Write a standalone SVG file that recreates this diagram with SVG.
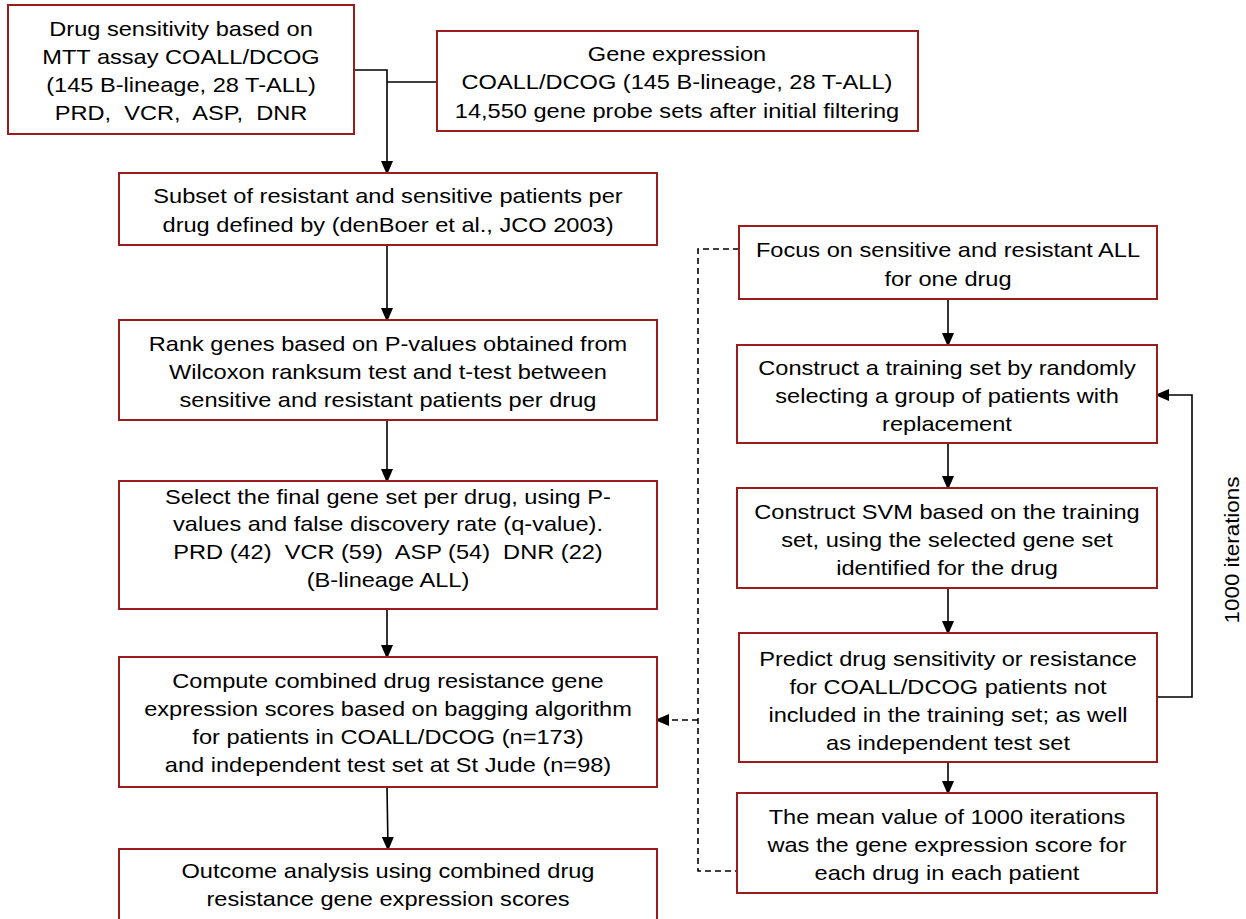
<svg xmlns="http://www.w3.org/2000/svg" width="1246" height="919" viewBox="0 0 1246 919">
<defs>
<style>
.box{fill:#fff;stroke:#9b1c1c;stroke-width:2}
text{font-family:"Liberation Sans",Arial,sans-serif;font-size:20px;fill:#000;text-anchor:middle}
.ln{fill:none;stroke:#000;stroke-width:1.6}
.dash{fill:none;stroke:#000;stroke-width:1.6;stroke-dasharray:6,4}
</style>
<marker id="ah" markerWidth="14" markerHeight="12" refX="12" refY="6" orient="auto" markerUnits="userSpaceOnUse">
<path d="M0,0 L14,6 L0,12 z" fill="#000"/>
</marker>
</defs>
<rect width="1246" height="919" fill="#fff"/>
<g id="connectors">
<polyline class="ln" points="354,70 387,70 387,173" marker-end="url(#ah)"/>
<line class="ln" x1="437" y1="82" x2="387" y2="82"/>
<line class="ln" x1="387" y1="245" x2="387" y2="320" marker-end="url(#ah)"/>
<line class="ln" x1="387" y1="420" x2="387" y2="481" marker-end="url(#ah)"/>
<line class="ln" x1="387" y1="609" x2="387" y2="657" marker-end="url(#ah)"/>
<line class="ln" x1="387" y1="787" x2="388" y2="849" marker-end="url(#ah)"/>
<line class="ln" x1="948" y1="299" x2="948" y2="345" marker-end="url(#ah)"/>
<line class="ln" x1="948" y1="443" x2="948" y2="488" marker-end="url(#ah)"/>
<line class="ln" x1="948" y1="588" x2="948" y2="633" marker-end="url(#ah)"/>
<line class="ln" x1="948" y1="762" x2="948" y2="793" marker-end="url(#ah)"/>
<polyline class="ln" points="1157,697 1192,697 1192,395 1157,395" marker-end="url(#ah)"/>
<polyline class="dash" points="739,249 698,249 698,871 737,871"/>
<line class="dash" x1="698" y1="720" x2="657" y2="720" marker-end="url(#ah)"/>
</g>
<g id="n1"><rect class="box" x="8" y="5" width="346" height="129"/>
<g transform="translate(181,0) scale(1.18,1)"><text x="0" y="36">Drug sensitivity based on</text><text x="0" y="64">MTT assay COALL/DCOG</text><text x="0" y="92">(145 B-lineage, 28 T-ALL)</text><text x="0" y="120" xml:space="preserve">PRD,  VCR,  ASP,  DNR</text></g></g>
<g id="n2"><rect class="box" x="437" y="31" width="481" height="100"/>
<g transform="translate(677,0) scale(1.18,1)"><text x="0" y="61">Gene expression</text><text x="0" y="89">COALL/DCOG (145 B-lineage, 28 T-ALL)</text><text x="0" y="118">14,550 gene probe sets after initial filtering</text></g></g>
<g id="n3"><rect class="box" x="119" y="173" width="538" height="72"/>
<g transform="translate(388,0) scale(1.18,1)"><text x="0" y="203">Subset of resistant and sensitive patients per</text><text x="0" y="232">drug defined by (denBoer et al., JCO 2003)</text></g></g>
<g id="n4"><rect class="box" x="119" y="320" width="538" height="100"/>
<g transform="translate(388,0) scale(1.18,1)"><text x="0" y="351">Rank genes based on P-values obtained from</text><text x="0" y="379">Wilcoxon ranksum test and t-test between</text><text x="0" y="407">sensitive and resistant patients per drug</text></g></g>
<g id="n5"><rect class="box" x="119" y="481" width="538" height="128"/>
<g transform="translate(388,0) scale(1.18,1)"><text x="0" y="504">Select the final gene set per drug, using P-</text><text x="0" y="531">values and false discovery rate (q-value).</text><text x="0" y="559" xml:space="preserve">PRD (42)  VCR (59)  ASP (54)  DNR (22)</text><text x="0" y="587">(B-lineage ALL)</text></g></g>
<g id="n6"><rect class="box" x="119" y="657" width="538" height="130"/>
<g transform="translate(388,0) scale(1.18,1)"><text x="0" y="688">Compute combined drug resistance gene</text><text x="0" y="716">expression scores based on bagging algorithm</text><text x="0" y="744">for patients in COALL/DCOG (n=173)</text><text x="0" y="772">and independent test set at St Jude (n=98)</text></g></g>
<g id="n7"><rect class="box" x="119" y="849" width="538" height="80"/>
<g transform="translate(388,0) scale(1.18,1)"><text x="0" y="878">Outcome analysis using combined drug</text><text x="0" y="906">resistance gene expression scores</text></g></g>
<g id="r1"><rect class="box" x="739" y="226" width="418" height="73"/>
<g transform="translate(948,0) scale(1.18,1)"><text x="0" y="257">Focus on sensitive and resistant ALL</text><text x="0" y="286">for one drug</text></g></g>
<g id="r2"><rect class="box" x="737" y="345" width="420" height="98"/>
<g transform="translate(947,0) scale(1.18,1)"><text x="0" y="375">Construct a training set by randomly</text><text x="0" y="403">selecting a group of patients with</text><text x="0" y="431">replacement</text></g></g>
<g id="r3"><rect class="box" x="737" y="488" width="420" height="100"/>
<g transform="translate(947,0) scale(1.18,1)"><text x="0" y="519">Construct SVM based on the training</text><text x="0" y="547">set, using the selected gene set</text><text x="0" y="575">identified for the drug</text></g></g>
<g id="r4"><rect class="box" x="739" y="633" width="418" height="129"/>
<g transform="translate(948,0) scale(1.18,1)"><text x="0" y="666">Predict drug sensitivity or resistance</text><text x="0" y="694">for COALL/DCOG patients not</text><text x="0" y="722">included in the training set; as well</text><text x="0" y="750">as independent test set</text></g></g>
<g id="r5"><rect class="box" x="737" y="793" width="420" height="100"/>
<g transform="translate(947,0) scale(1.18,1)"><text x="0" y="824">The mean value of 1000 iterations</text><text x="0" y="852">was the gene expression score for</text><text x="0" y="880">each drug in each patient</text></g></g>
<g id="lbl"><g transform="translate(1239,550) rotate(-90) scale(1.12,1)"><text x="0" y="0">1000 iterations</text></g></g>
</svg>
